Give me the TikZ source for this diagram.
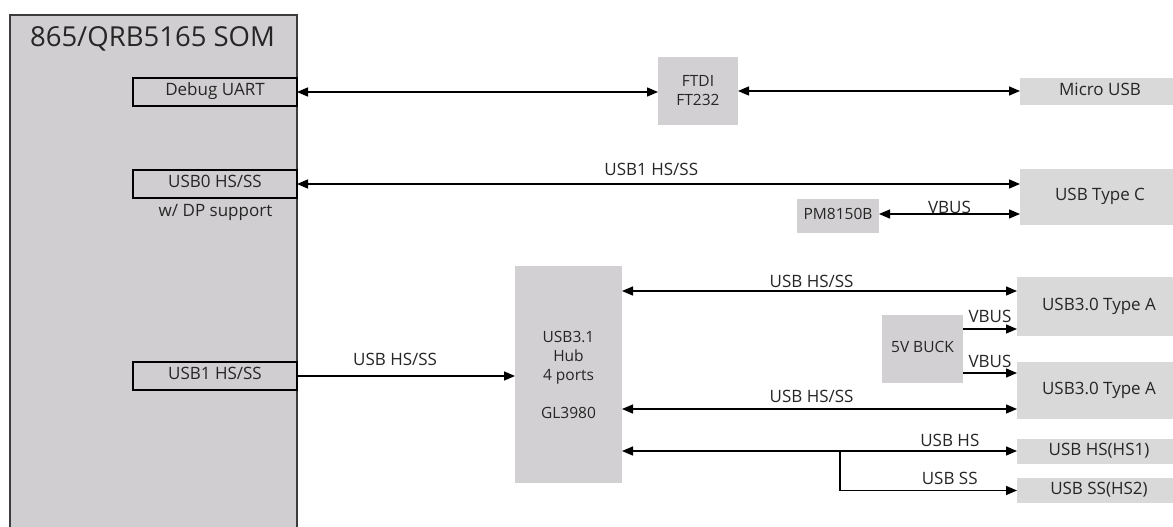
\documentclass[tikz,border=0pt]{standalone}
\usepackage{fontspec}
\setmainfont{Open Sans}
\usetikzlibrary{arrows.meta,calc}
\definecolor{somfill}{RGB}{208,206,208}
\definecolor{boxfill}{RGB}{210,208,210}
\definecolor{connfill}{RGB}{217,217,217}
\definecolor{txt}{RGB}{38,38,38}
\definecolor{edge}{RGB}{60,60,60}
\begin{document}
\begin{tikzpicture}[x=1pt,y=-1pt,
  every node/.style={inner sep=0pt, outer sep=0pt, text=txt},
  fnt/.style={font=\fontsize{17}{20}\selectfont},
  sfnt/.style={font=\fontsize{15.5}{19}\selectfont},
  mbox/.style={fill=boxfill, fnt, anchor=north west},
  box/.style={mbox, text height=0.72em, text depth=0pt},
  cbox/.style={box, fill=connfill},
  port/.style={draw=black, line width=1.2pt, fill=somfill, fnt, text height=0.72em, text depth=0pt, anchor=north west, minimum width=164pt, minimum height=28pt},
  conn/.style={line width=1.3pt, black},
  bi/.style={conn, {Triangle[length=11pt,width=9pt]}-{Triangle[length=11pt,width=9pt]}},
  uni/.style={conn, -{Triangle[length=11pt,width=9pt]}},
  lbl/.style={fnt, anchor=base},
]
\useasboundingbox (0,0) rectangle (1173,527);
\fill[white] (0,0) rectangle (1173,527);

% SOM
\node[draw=edge, line width=1.3pt, fill=somfill, anchor=north west, minimum width=287pt, minimum height=530pt] (som) at (10,15) {};
\node[font=\fontsize{27.5}{30}\selectfont, anchor=base] (title) at (152.5,47) {865/QRB5165 SOM};
\node[port] (uart) at (133,78) {Debug UART};
\node[port] (usb0) at (133,170) {USB0 HS/SS};
\node[fnt, anchor=base] (dp) at (215.5,216) {w/ DP support};
\node[port] (usb1) at (133,362) {USB1 HS/SS};

% other blocks
\node[mbox, sfnt, align=center, minimum width=80pt, minimum height=68pt] (ftdi) at (658,57) {FTDI\\FT232};
\node[cbox, minimum width=160pt, minimum height=27pt] (micro) at (1020,78) {Micro USB};
\node[cbox, minimum width=160pt, minimum height=56pt] (typec) at (1020,169) {USB Type C};
\node[box, sfnt, minimum width=82pt, minimum height=34pt] (pm) at (797,199) {PM8150B};
\node[mbox, sfnt, align=center, minimum width=107pt, minimum height=217pt] (hub) at (515,266) {USB3.1\\Hub\\4 ports\\[19pt]GL3980};
\node[box, sfnt, minimum width=81pt, minimum height=68pt] (buck) at (882,315) {5V BUCK};
\node[cbox, minimum width=164pt, minimum height=59pt] (ta1) at (1017,277) {USB3.0 Type A};
\node[cbox, minimum width=164pt, minimum height=57pt] (ta2) at (1017,362) {USB3.0 Type A};
\node[cbox, minimum width=164pt, minimum height=25pt] (hs1) at (1017,439) {USB HS(HS1)};
\node[cbox, minimum width=164pt, minimum height=25pt] (hs2) at (1017,478) {USB SS(HS2)};

% connectors
\draw[bi] (uart.east) -- (uart.east -| ftdi.west);
\draw[bi] (ftdi.east) -- (ftdi.east -| micro.west);
\draw[bi] (usb0.east) -- node[lbl, pos=0.49, yshift=9pt] (l1) {USB1 HS/SS} (usb0.east -| typec.west);
\coordinate (pmA) at ([yshift=2pt]pm.east);
\draw[bi] (pmA) -- node[lbl, yshift=1pt] (l2) {VBUS} (pmA -| typec.west);
\draw[uni] (usb1.east) -- node[lbl, pos=0.45, yshift=11pt] (l3) {USB HS/SS} (usb1.east -| hub.west);

\coordinate (hA) at (622,291);
\coordinate (hB) at (622,409);
\coordinate (hC) at (622,451);
\coordinate (br) at (840,451);
\draw[bi] (hA) -- node[lbl, pos=0.48, yshift=4pt] (l4) {USB HS/SS} (hA -| ta1.west);
\draw[bi] (hB) -- node[lbl, pos=0.48, yshift=7pt] (l5) {USB HS/SS} (hB -| ta2.west);
\draw[bi] (hC) -- node[lbl, pos=0.83, yshift=5pt] (l6) {USB HS} (hC -| hs1.west);
\draw[uni] (br) |- (hs2.west);
\node[lbl, yshift=6pt] (l7) at ($(br |- hs2.west)!0.62!(hs2.west)$) {USB SS};

\coordinate (bA) at ([yshift=20pt]buck.east);
\coordinate (bB) at ([yshift=-24pt]buck.east);
\draw[uni] (bA) -- node[lbl, yshift=7pt] (l8) {VBUS} (bA -| ta1.west);
\draw[uni] (bB) -- node[lbl, yshift=6pt] (l9) {VBUS} (bB -| ta2.west);
\end{tikzpicture}
\end{document}
